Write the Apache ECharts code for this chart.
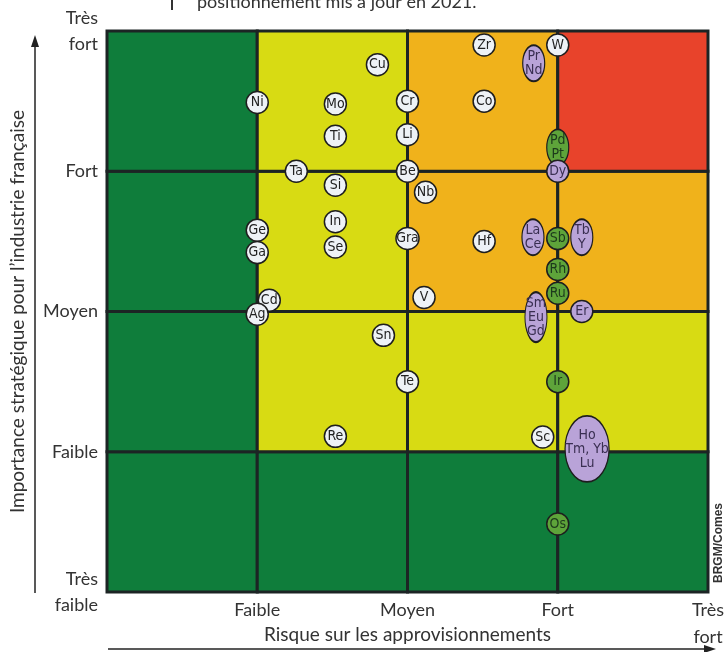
<!DOCTYPE html>
<html><head><meta charset="utf-8">
<script src="https://cdn.jsdelivr.net/npm/echarts@6/dist/echarts.min.js"></script>
<style>html,body{margin:0;padding:0;background:#fff}#c{width:726px;height:652px}</style>
</head><body><div id="c"></div>
<script>
// ---------- data ----------
const xTickLabels = ['', 'Faible', 'Moyen', 'Fort', 'Très\nfort'];
const yTickLabels = ['Très\nfaible', 'Faible', 'Moyen', 'Fort', 'Très\nfort'];
const xAxisTitle = 'Risque sur les approvisionnements';
const yAxisTitle = 'Importance stratégique pour l’industrie française';
const topNote = 'positionnement mis à jour en 2021.';
const credit = 'BRGM/Comes';
// risk level of each cell, rows from bottom (importance 0-1) to top (3-4), columns risk 0-1 .. 3-4
const cellLevels = [
  [0, 0, 0, 0],
  [0, 1, 1, 1],
  [0, 1, 2, 2],
  [0, 1, 2, 3]
];
// [name, risk, importance]
const whiteElements = [
  ['Ni', 1.00, 3.49], ['Mo', 1.52, 3.48], ['Ti', 1.52, 3.25], ['Ta', 1.26, 3.00],
  ['Si', 1.52, 2.90], ['In', 1.52, 2.64], ['Se', 1.52, 2.46], ['Ge', 1.00, 2.58],
  ['Ga', 1.00, 2.42], ['Cd', 1.08, 2.08], ['Ag', 1.00, 1.98], ['Cu', 1.80, 3.76],
  ['Cr', 2.00, 3.50], ['Li', 2.00, 3.26], ['Be', 2.00, 3.00], ['Nb', 2.12, 2.85],
  ['Gra', 2.00, 2.52], ['V', 2.11, 2.10], ['Sn', 1.84, 1.83], ['Te', 2.00, 1.50],
  ['Re', 1.52, 1.11], ['Zr', 2.51, 3.90], ['Co', 2.51, 3.50], ['Hf', 2.51, 2.50],
  ['W', 3.00, 3.90], ['Sc', 2.90, 1.105]
];
const greenElements = [
  ['Pd\nPt', 3.00, 3.17], ['Sb', 3.00, 2.52], ['Rh', 3.00, 2.30], ['Ru', 3.00, 2.13],
  ['Ir', 3.00, 1.50], ['Os', 3.00, 0.485]
];
const purpleElements = [
  ['Pr\nNd', 2.84, 3.77], ['Dy', 3.00, 3.00], ['La\nCe', 2.835, 2.53], ['Tb\nY', 3.16, 2.53],
  ['Sm\nEu\nGd', 2.855, 1.96], ['Er', 3.16, 2.00], ['Ho\nTm, Yb\nLu', 3.195, 1.02]
];

// ---------- styles ----------
const levelColors = ['#0f7d3b', '#d8db13', '#f0b21b', '#e8432b'];
const lineColor = '#1c2424';
const labelFont = "'Liberation Sans Narrow', 'DejaVu Sans Condensed', Roboto, sans-serif";
const axisFont = 'Lato, "Open Sans", sans-serif';

function bubbleSize(name) {
  const lines = name.split('\n');
  const maxLen = Math.max(...lines.map(s => s.length));
  const w = Math.max(22, maxLen * 7 + 2);
  const h = lines.length === 1 ? 22 : Math.max(lines.length * 14 + 8, w * 1.5);
  return [w, h];
}
function toItems(arr) {
  return arr.map(d => ({ name: d[0], value: [d[1], d[2]], symbolSize: bubbleSize(d[0]) }));
}
function bubbleSeries(arr, fill, textColor, z) {
  return {
    type: 'scatter', symbol: 'circle', z: z, silent: true,
    data: toItems(arr),
    itemStyle: { color: fill, borderColor: '#1e1e1e', borderWidth: 1.5, opacity: 1 },
    label: {
      show: true, position: 'inside', formatter: '{b}',
      fontFamily: labelFont, fontSize: 14, lineHeight: 14, color: textColor
    }
  };
}
const cellData = [];
cellLevels.forEach((row, j) => row.forEach((lv, i) => cellData.push([i, j, lv])));

const chart = echarts.init(document.getElementById('c'), null, { renderer: 'canvas' });
chart.setOption({
  animation: false,
  backgroundColor: '#ffffff',
  grid: { left: 107, top: 31, right: 18, bottom: 60, outerBoundsMode: 'none', containLabel: false },
  xAxis: {
    type: 'value', min: 0, max: 4, interval: 1,
    name: xAxisTitle, nameLocation: 'middle', nameGap: 33, nameMoveOverlap: false,
    nameTextStyle: { fontFamily: axisFont, fontSize: 19, color: '#333' },
    axisLine: { show: false }, axisTick: { show: false }, splitLine: { show: false },
    axisLabel: {
      showMinLabel: true, showMaxLabel: true, margin: 5, hideOverlap: false,
      fontFamily: axisFont, fontSize: 18, lineHeight: 27, color: '#333',
      formatter: v => xTickLabels[Math.round(v)] || ''
    }
  },
  yAxis: {
    type: 'value', min: 0, max: 4, interval: 1,
    name: yAxisTitle, nameLocation: 'middle', nameGap: 80, nameRotate: 90, nameMoveOverlap: false,
    nameTextStyle: { fontFamily: axisFont, fontSize: 19, color: '#333' },
    axisLine: { show: false }, axisTick: { show: false }, splitLine: { show: false },
    axisLabel: {
      showMinLabel: true, showMaxLabel: true, margin: 9,
      fontFamily: axisFont, fontSize: 18, lineHeight: 26, color: '#333',
      formatter: v => yTickLabels[Math.round(v)] || ''
    }
  },
  graphic: [
    { type: 'line', shape: { x1: 35, y1: 593, x2: 35, y2: 44 }, style: { stroke: '#222', lineWidth: 1.5 } },
    { type: 'polygon', shape: { points: [[35, 35], [31, 47], [39, 47]] }, style: { fill: '#222' } },
    { type: 'line', shape: { x1: 108, y1: 649, x2: 706, y2: 649 }, style: { stroke: '#222', lineWidth: 1.5 } },
    { type: 'polygon', shape: { points: [[716, 649], [704, 645], [704, 653]] }, style: { fill: '#222' } },
    { type: 'line', shape: { x1: 172, y1: 0, x2: 172, y2: 10 }, style: { stroke: '#333', lineWidth: 2 } },
    { type: 'text', x: 197, y: 11, style: { text: topNote, font: '18px ' + axisFont, fill: '#333', verticalAlign: 'bottom' } },
    { type: 'text', x: 719, y: 543, rotation: Math.PI / 2,
      style: { text: credit, font: 'bold 12px "Liberation Sans", Arial, sans-serif', fill: '#333', align: 'center', verticalAlign: 'middle' } }
  ],
  series: [
    {
      type: 'custom', silent: true, z: 1,
      encode: { x: 0, y: 1 },
      data: cellData,
      renderItem: (params, api) => {
        const x = api.value(0), y = api.value(1), lv = api.value(2);
        const p0 = api.coord([x, y + 1]);
        const p1 = api.coord([x + 1, y]);
        return {
          type: 'rect',
          shape: { x: p0[0], y: p0[1], width: p1[0] - p0[0], height: p1[1] - p0[1] },
          style: { fill: levelColors[lv], stroke: lineColor, lineWidth: 3 }
        };
      }
    },
    bubbleSeries(whiteElements, '#eef2f6', '#222', 3),
    bubbleSeries(greenElements, '#5ea43a', '#1d3a1c', 4),
    bubbleSeries(purpleElements, '#b9a3d8', '#3a2f52', 5)
  ]
});
</script>
</body></html>
